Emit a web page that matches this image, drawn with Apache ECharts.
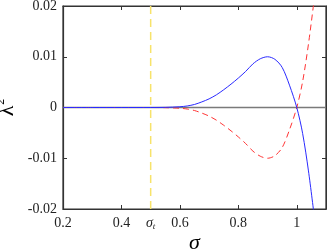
<!DOCTYPE html>
<html><head><meta charset="utf-8">
<script src="https://cdn.jsdelivr.net/npm/echarts@6/dist/echarts.min.js"></script>
<style>html,body{margin:0;padding:0;background:#fff}#c{width:327px;height:250px}</style>
</head><body><div id="c"></div>
<script>
const sigma = [0.2, 0.3, 0.4, 0.5, 0.55, 0.6, 0.625, 0.65, 0.675, 0.7, 0.725, 0.75, 0.775, 0.8, 0.825, 0.85, 0.875, 0.9, 0.925, 0.95, 0.975, 1.0, 1.02, 1.04, 1.06];
const blueVals = [0, 0, 0, 0, 0.00003, 0.00015, 0.0003, 0.0006, 0.0011, 0.0017, 0.0025, 0.0035, 0.0046, 0.0058, 0.0071, 0.0086, 0.0096, 0.0100, 0.0095, 0.0079, 0.0044, 0.0, -0.0051, -0.0125, -0.0215];
const redVals = [0, 0, 0, 0, -0.00003, -0.00015, -0.0003, -0.0006, -0.0011, -0.0017, -0.0025, -0.0035, -0.0046, -0.0058, -0.0071, -0.0086, -0.0096, -0.0100, -0.0095, -0.0079, -0.0044, 0.0, 0.0051, 0.0125, 0.0215];
const sigmaT = 0.5;
const xTicks = [0.2, 0.4, 0.6, 0.8, 1.0];
const xLabels = [0.2, 0.4, 0.5, 0.6, 0.8, 1.0];
const yTicks = [-0.02, -0.01, 0, 0.01, 0.02];

const chart = echarts.init(document.getElementById('c'));
const font = 'Liberation Serif';
const axisLine = {show: true, onZero: false, lineStyle: {color: '#333', width: 1.2}};
function xfmt(v) {
  const r = Math.round(v * 10) / 10;
  if (Math.abs(r - sigmaT) < 1e-9) return '{s|σ}{t|t}';
  return String(r);
}
function yfmt(v) { return String(Math.round(v * 100) / 100); }
chart.setOption({
  animation: false,
  grid: {left: 63, right: 1, top: 6, bottom: 41, containLabel: false, outerBoundsMode: 'none',
         show: true, borderColor: '#333', borderWidth: 1.2, backgroundColor: 'transparent'},
  xAxis: [{
    type: 'value', min: 0.2, max: 1.1, interval: 0.2, position: 'bottom',
    name: 'σ', nameLocation: 'middle', nameGap: 23, nameMoveOverlap: false,
    nameTextStyle: {fontFamily: font, fontStyle: 'italic', fontSize: 22, color: '#000'},
    axisLine: axisLine,
    axisTick: {show: true, inside: true, length: 4, customValues: xTicks, lineStyle: {color: '#333'}},
    axisLabel: {customValues: xLabels, formatter: xfmt, fontFamily: font, fontSize: 14, color: '#222', margin: 7,
      rich: {s: {fontFamily: font, fontStyle: 'italic', fontSize: 14, color: '#222'},
             t: {fontFamily: font, fontStyle: 'italic', fontSize: 9, color: '#222', padding: [6, 0, 0, 0]}}},
    splitLine: {show: false}
  }, {
    type: 'value', min: 0.2, max: 1.1, interval: 0.2, position: 'top',
    axisLine: axisLine,
    axisTick: {show: true, inside: true, length: 4, customValues: xTicks, lineStyle: {color: '#333'}},
    axisLabel: {show: false}, splitLine: {show: false}
  }],
  yAxis: [{
    type: 'value', min: -0.02, max: 0.02, interval: 0.01, position: 'left',
    name: '{l|λ}{p|2}', nameLocation: 'middle', nameGap: 44, nameRotate: 90, nameMoveOverlap: false,
    nameTextStyle: {fontFamily: font, fontSize: 22, color: '#000',
      rich: {l: {fontFamily: font, fontSize: 22, color: '#000'},
             p: {fontFamily: font, fontSize: 12, color: '#000', padding: [0, 0, 12, 1]}}},
    axisLine: axisLine,
    axisTick: {show: true, inside: true, length: 4, customValues: yTicks, lineStyle: {color: '#333'}},
    axisLabel: {formatter: yfmt, fontFamily: font, fontSize: 14, color: '#222', margin: 6},
    splitLine: {show: false}
  }, {
    type: 'value', min: -0.02, max: 0.02, interval: 0.01, position: 'right',
    axisLine: axisLine,
    axisTick: {show: true, inside: true, length: 4, customValues: yTicks, lineStyle: {color: '#333'}},
    axisLabel: {show: false}, splitLine: {show: false}
  }],
  series: [
    {type: 'line', data: [[0.2, 0], [1.1, 0]], showSymbol: false, silent: true, z: 1,
     lineStyle: {color: '#7a7a7a', width: 1.3}},
    {type: 'line', data: [[sigmaT, -0.02], [sigmaT, 0.02]], showSymbol: false, silent: true, z: 2,
     lineStyle: {color: '#f7e36a', width: 1.5, type: [8, 5]}},
    {type: 'line', data: sigma.map((s, i) => [s, redVals[i]]), showSymbol: false, smooth: 0.3, z: 3,
     lineStyle: {color: '#ff3333', width: 1, type: [6, 4]}},
    {type: 'line', data: sigma.map((s, i) => [s, blueVals[i]]), showSymbol: false, smooth: 0.3, z: 4,
     lineStyle: {color: '#2a2aff', width: 1}}
  ]
});
</script></body></html>
